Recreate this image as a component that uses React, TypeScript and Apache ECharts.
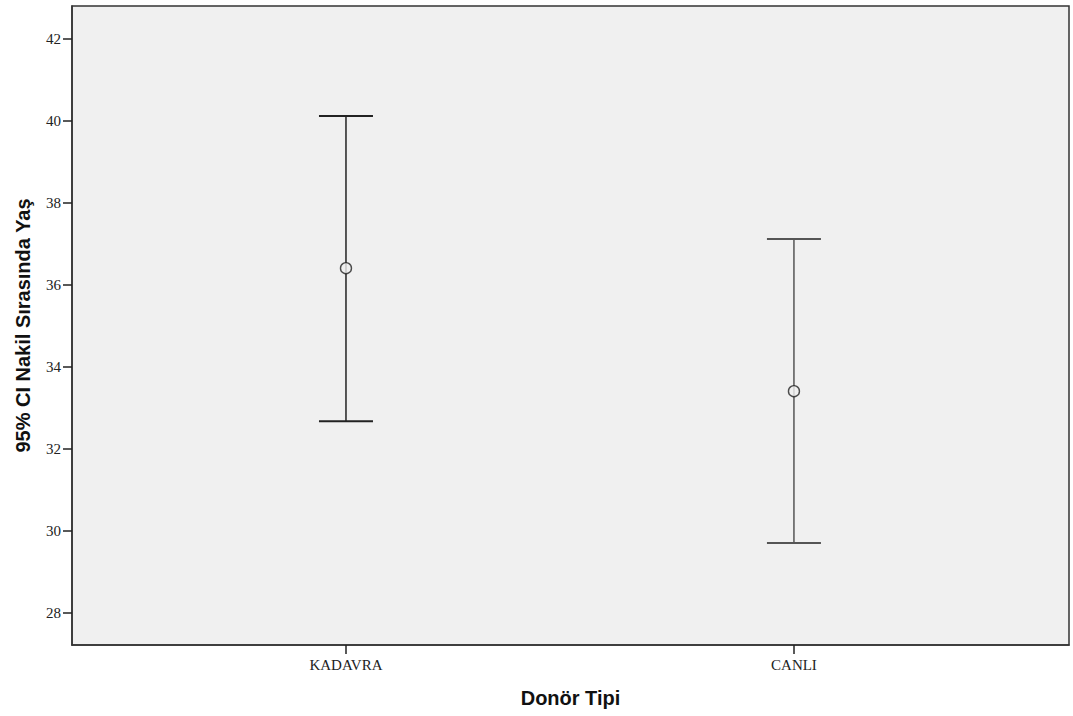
import React, { useEffect, useRef } from "react";
import * as echarts from "echarts";

const categories = ["KADAVRA", "CANLI"];
const means = [36.41, 33.41];
const lower = [32.68, 29.71];
const upper = [40.12, 37.12];
const yTicks = [28, 30, 32, 34, 36, 38, 40, 42];
const barColors = ["#222222", "#555555"];

export default function App() {
  const ref = useRef<HTMLDivElement>(null);
  useEffect(() => {
    const chart = echarts.init(ref.current!, null, { renderer: "svg" });
    const errData = categories.map((_, i) => [i, lower[i], upper[i]]);
    const meanData = categories.map((_, i) => [i, means[i]]);
    chart.setOption({
      animation: false,
      grid: {
        left: 72,
        top: 6,
        width: 997,
        height: 639,
        show: true,
        backgroundColor: "#f0f0f0",
        borderColor: "#333333",
        borderWidth: 1.5,
      },
      xAxis: {
        type: "value",
        min: -0.6116,
        max: 1.614,
        splitLine: { show: false },
        axisLine: { show: true, onZero: false, lineStyle: { color: "#333", width: 1.5 } },
        axisTick: {
          show: true,
          customValues: [0, 1],
          length: 9,
          lineStyle: { color: "#222", width: 1.5 },
        },
        axisLabel: {
          customValues: [0, 1],
          formatter: (v: number) => categories[Math.round(v)] ?? "",
          fontFamily: "Liberation Serif, DejaVu Serif, serif",
          fontSize: 15,
          color: "#222",
          margin: 12,
        },
        name: "Donör Tipi",
        nameLocation: "middle",
        nameGap: 43,
        nameTextStyle: {
          fontFamily: "Liberation Sans, Arial, sans-serif",
          fontWeight: "bold",
          fontSize: 20,
          color: "#111",
        },
      },
      yAxis: {
        type: "value",
        min: 27.22,
        max: 42.805,
        splitLine: { show: false },
        axisLine: { show: true, onZero: false, lineStyle: { color: "#333", width: 1.5 } },
        axisTick: {
          show: true,
          customValues: yTicks,
          length: 9,
          lineStyle: { color: "#222", width: 1.5 },
        },
        axisLabel: {
          customValues: yTicks,
          fontFamily: "Liberation Serif, DejaVu Serif, serif",
          fontSize: 15,
          color: "#222",
          margin: 11,
        },
        name: "95% CI Nakil Sırasında Yaş",
        nameLocation: "middle",
        nameGap: 39,
        nameTextStyle: {
          fontFamily: "Liberation Sans, Arial, sans-serif",
          fontWeight: "bold",
          fontSize: 20,
          color: "#111",
        },
      },
      series: [
        {
          type: "custom",
          data: errData,
          renderItem: (params: any, api: any) => {
            const x = api.value(0);
            const lo = api.coord([x, api.value(1)]);
            const hi = api.coord([x, api.value(2)]);
            const hw = 27;
            const color = barColors[params.dataIndex];
            const style = { stroke: color, lineWidth: 1.5 };
            return {
              type: "group",
              children: [
                { type: "line", shape: { x1: lo[0], y1: lo[1], x2: hi[0], y2: hi[1] }, style },
                { type: "line", shape: { x1: hi[0] - hw, y1: hi[1], x2: hi[0] + hw, y2: hi[1] }, style: { stroke: color, lineWidth: 2 } },
                { type: "line", shape: { x1: lo[0] - hw, y1: lo[1], x2: lo[0] + hw, y2: lo[1] }, style: { stroke: color, lineWidth: 2 } },
              ],
            };
          },
          z: 2,
        },
        {
          type: "scatter",
          data: meanData,
          symbol: "circle",
          symbolSize: 11,
          itemStyle: { color: "#f0f0f0", borderColor: "#222", borderWidth: 1.4 },
          z: 3,
        },
      ],
    });
    return () => chart.dispose();
  }, []);
  return (
    <div
      ref={ref}
      style={{ position: "fixed", left: 0, top: 0, width: 1073, height: 716, background: "#fff" }}
    />
  );
}
